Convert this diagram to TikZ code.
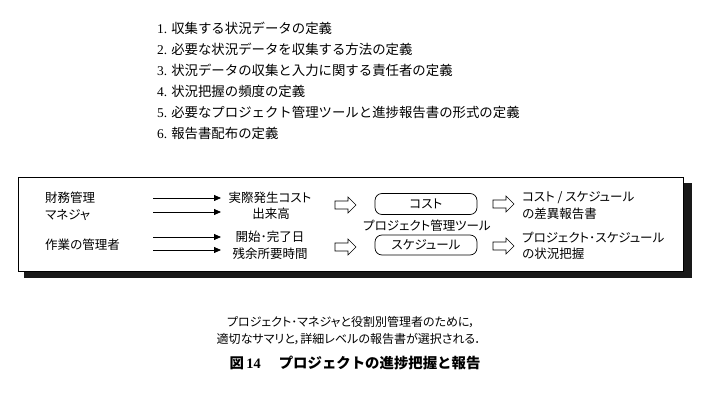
\documentclass[tikz,border=0pt]{standalone}
\usepackage{fontspec}
\setmainfont{Noto Sans CJK JP}
\newfontfamily\jp{Noto Sans CJK JP}
\newfontfamily\jpp{Noto Sans CJK JP}[RawFeature=+palt]
\newfontfamily\lat{Liberation Serif}
\usetikzlibrary{arrows.meta}
\tikzset{
  listitem/.style={anchor=west, inner sep=0pt, font=\jp\fontsize{13.4}{13}\selectfont},
  boxtext/.style={inner sep=0pt, font=\jpp\fontsize{12.5}{13}\selectfont},
  arr/.style={line width=0.8pt, -{Triangle[length=7pt,width=6pt]}},
  toolbox/.style={draw, line width=0.7pt, rounded corners=7pt, minimum width=102pt, minimum height=21pt, inner sep=0pt, font=\jpp\fontsize{12.5}{13}\selectfont},
  harrow/.pic={\draw[line width=0.6pt] (0,-4) -- (13,-4) -- (13,-8) -- (21,0) -- (13,8) -- (13,4) -- (0,4) -- cycle;}
}
\begin{document}
\begin{tikzpicture}[x=1pt,y=-1pt]
\useasboundingbox[fill=white] (0,0) rectangle (715,403);

% list
\node[listitem] (l1) at (157,28) {{\lat 1.}\hspace{4pt}収集する状況データの定義};
\node[listitem] (l2) at (157,49) {{\lat 2.}\hspace{4pt}必要な状況データを収集する方法の定義};
\node[listitem] (l3) at (157,70) {{\lat 3.}\hspace{4pt}状況データの収集と入力に関する責任者の定義};
\node[listitem] (l4) at (157,91) {{\lat 4.}\hspace{4pt}状況把握の頻度の定義};
\node[listitem] (l5) at (157,112) {{\lat 5.}\hspace{4pt}必要なプロジェクト管理ツールと進捗報告書の形式の定義};
\node[listitem] (l6) at (157,133) {{\lat 6.}\hspace{4pt}報告書配布の定義};

% framed box with shadow
\fill[black!90] (24,183) rectangle (692,278);
\draw[fill=white, line width=0.8pt] (18,177) rectangle (683,271);

% left texts
\node[boxtext, anchor=west] (fin1) at (45,198) {財務管理};
\node[boxtext, anchor=west] (fin2) at (45,215) {マネジャ};
\node[boxtext, anchor=west] (work) at (45,245) {作業の管理者};

% middle texts
\node[boxtext] (acost) at (270,198) {実際発生コスト};
\node[boxtext] (ev) at (271,214) {出来高};
\node[boxtext] (dates) at (270,237) {開始･完了日};
\node[boxtext] (remain) at (270,254) {残余所要時間};

% thin arrows
\coordinate (s1) at (153,198); \coordinate (e1) at (221,198);
\coordinate (s2) at (153,212); \coordinate (e2) at (221,212);
\coordinate (s3) at (153,237); \coordinate (e3) at (221,237);
\coordinate (s4) at (153,250); \coordinate (e4) at (221,250);
\draw[arr] (s1) -- (e1);
\draw[arr] (s2) -- (e2);
\draw[arr] (s3) -- (e3);
\draw[arr] (s4) -- (e4);

% hollow arrows
\pic at (335,205) {harrow};
\pic at (335,247) {harrow};
\pic at (493,204) {harrow};
\pic at (493,246) {harrow};

% tool boxes
\node[toolbox] (costbox) at (426,204) {コスト};
\node[boxtext] (tool) at (427,226) {プロジェクト管理ツール};
\node[toolbox, minimum height=20pt] (schedbox) at (426,245) {スケジュール};

% right texts
\node[boxtext, anchor=west] (r1) at (522,198) {コスト / スケジュール};
\node[boxtext, anchor=west] (r2) at (522,214) {の差異報告書};
\node[boxtext, anchor=west] (r3) at (522,238) {プロジェクト･スケジュール};
\node[boxtext, anchor=west] (r4) at (522,254) {の状況把握};

% bottom notes
\node[boxtext, font=\jpp\fontsize{12}{12}\selectfont] (n1) at (351,322) {プロジェクト･マネジャと役割別管理者のために，};
\node[boxtext, font=\jpp\fontsize{12}{12}\selectfont] (n2) at (349,339) {適切なサマリと，詳細レベルの報告書が選択される．};
\node[inner sep=0pt, font=\jp\bfseries\fontsize{14.4}{15}\selectfont] (cap) at (355,363) {図\,{\lat\bfseries 14}\hspace{18pt}プロジェクトの進捗把握と報告};
\end{tikzpicture}
\end{document}
